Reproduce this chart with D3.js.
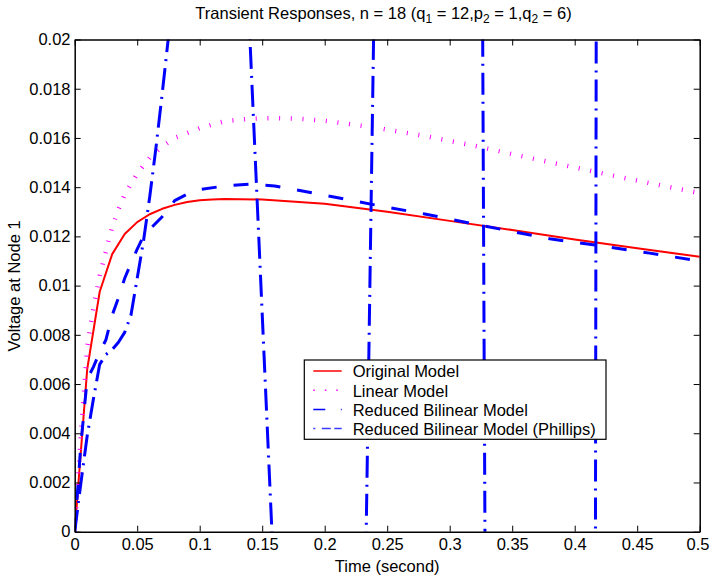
<!DOCTYPE html>
<html>
<head>
<meta charset="utf-8">
<script src="https://cdn.jsdelivr.net/npm/d3@7"></script>
<style>
  body { margin: 0; background: #fff; }
  text { font-family: "Liberation Sans", Arial, Helvetica, sans-serif; }
</style>
</head>
<body>
<div id="chart"></div>
<script>
// values
const timeOriginal = [0, 0.01, 0.02, 0.03, 0.04, 0.05, 0.06, 0.07, 0.08, 0.09, 0.1, 0.11, 0.12, 0.15, 0.2, 0.25, 0.3, 0.35, 0.4, 0.45, 0.5];
const voltOriginal = [0, 0.0066, 0.00975, 0.01128, 0.0121, 0.01258, 0.0129, 0.01312, 0.01328, 0.0134, 0.01347, 0.0135, 0.01352, 0.0135, 0.01333, 0.013, 0.01263, 0.01226, 0.01187, 0.01152, 0.01117];

const timeLinear = [0, 0.005, 0.01, 0.015, 0.02, 0.025, 0.03, 0.035, 0.04, 0.05, 0.06, 0.07, 0.08, 0.09, 0.1, 0.12, 0.14, 0.16, 0.18, 0.2, 0.24, 0.28, 0.32, 0.36, 0.4, 0.44, 0.48, 0.5];
const voltLinear = [0, 0.004, 0.0075, 0.0091, 0.0104, 0.0114, 0.0124, 0.0131, 0.0137, 0.01455, 0.0152, 0.01565, 0.016, 0.0162, 0.0164, 0.01668, 0.01678, 0.01681, 0.01678, 0.0167, 0.01642, 0.01608, 0.01568, 0.01523, 0.0148, 0.01437, 0.01396, 0.01376];

const timeBilinear = [0, 0.005, 0.01, 0.015, 0.02, 0.025, 0.03, 0.035, 0.04, 0.045, 0.05, 0.055, 0.06, 0.07, 0.08, 0.09, 0.1, 0.12, 0.14, 0.16, 0.19, 0.24, 0.28, 0.32, 0.38, 0.42, 0.46, 0.5];
const voltBilinear = [0, 0.0036, 0.0062, 0.0067, 0.0073, 0.0078, 0.0088, 0.0095, 0.0103, 0.0109, 0.01148, 0.012, 0.01228, 0.0128, 0.01345, 0.01372, 0.0139, 0.01405, 0.01412, 0.01405, 0.01377, 0.01328, 0.01291, 0.0125, 0.0119, 0.01162, 0.01132, 0.011];

const timePhillips = [0, 0.005, 0.01, 0.015, 0.02, 0.025, 0.03, 0.035, 0.04, 0.045, 0.05, 0.055, 0.06, 0.065, 0.07, 0.075, 0.08, 0.1, 0.13, 0.17, 0.2, 0.23, 0.24, 0.28, 0.32, 0.33, 0.37, 0.41, 0.42, 0.46, 0.5];
const voltPhillips = [0, 0.002, 0.0039, 0.0054, 0.0068, 0.0072, 0.0074, 0.0077, 0.0081, 0.0088, 0.0103, 0.0118, 0.0136, 0.0156, 0.0178, 0.0201, 0.0225, 0.045, 0.0316, -0.0139, -0.05, -0.0109, 0.0231, 0.12, 0.0911, -0.02, -0.3, -0.22, 0.1133, 0.6, 0.4];

const xTicks = [0, 0.05, 0.1, 0.15, 0.2, 0.25, 0.3, 0.35, 0.4, 0.45, 0.5];
const xTickLabels = ["0", "0.05", "0.1", "0.15", "0.2", "0.25", "0.3", "0.35", "0.4", "0.45", "0.5"];
const yTicks = [0, 0.002, 0.004, 0.006, 0.008, 0.01, 0.012, 0.014, 0.016, 0.018, 0.02];
const yTickLabels = ["0", "0.002", "0.004", "0.006", "0.008", "0.01", "0.012", "0.014", "0.016", "0.018", "0.02"];
const seriesNames = ["Original Model", "Linear Model", "Reduced Bilinear Model", "Reduced Bilinear Model (Phillips)"];

function makeChart() {
    const svg = d3.select("div#chart")
        .append("svg")
        .attr("width", 710)
        .attr("height", 580);

    const left = 74.7, right = 699.7, top = 39.5, bottom = 531.7;
    const fontSize = 16.5;

    const xScale = d3.scaleLinear().domain([0, 0.5]).range([left, right]);
    const yScale = d3.scaleLinear().domain([0, 0.02]).range([bottom, top]);

    svg.append("clipPath").attr("id", "plotClip")
        .append("rect")
        .attr("x", left).attr("y", top)
        .attr("width", right - left).attr("height", bottom - top);

    const line = d3.line()
        .x(d => xScale(d[0]))
        .y(d => yScale(d[1]));

    const styles = [
        { color: "#ff0000", width: 2, dash: null },
        { color: "#ff00ff", width: 4.5, dash: "1,10.7" },
        { color: "#0000ff", width: 3, dash: "15,17" },
        { color: "#0000ff", width: 3, dash: "22,7,2,7" }
    ];
    const series = [
        d3.zip(timeOriginal, voltOriginal),
        d3.zip(timeLinear, voltLinear),
        d3.zip(timeBilinear, voltBilinear),
        d3.zip(timePhillips, voltPhillips)
    ];

    const plot = svg.append("g").attr("clip-path", "url(#plotClip)");
    series.forEach((s, i) => {
        plot.append("path")
            .datum(s)
            .attr("d", line)
            .attr("fill", "none")
            .attr("stroke", styles[i].color)
            .attr("stroke-width", styles[i].width)
            .attr("stroke-dasharray", styles[i].dash)
            .attr("stroke-linejoin", "round");
    });

    // box with inward ticks on all sides
    const bottomAxis = svg.append("g")
        .attr("transform", "translate(0," + bottom + ")")
        .call(d3.axisBottom(xScale).tickValues(xTicks).tickFormat((d, i) => xTickLabels[i])
            .tickSizeInner(-6).tickSizeOuter(0).tickPadding(6.6));
    const topAxis = svg.append("g")
        .attr("transform", "translate(0," + top + ")")
        .call(d3.axisTop(xScale).tickValues(xTicks).tickFormat("")
            .tickSizeInner(-6).tickSizeOuter(0));
    const leftAxis = svg.append("g")
        .attr("transform", "translate(" + left + ",0)")
        .call(d3.axisLeft(yScale).tickValues(yTicks).tickFormat((d, i) => yTickLabels[i])
            .tickSizeInner(-6).tickSizeOuter(0).tickPadding(4.2));
    const rightAxis = svg.append("g")
        .attr("transform", "translate(" + right + ",0)")
        .call(d3.axisRight(yScale).tickValues(yTicks).tickFormat("")
            .tickSizeInner(-6).tickSizeOuter(0));

    [bottomAxis, topAxis, leftAxis, rightAxis].forEach(a => {
        a.attr("font-size", fontSize);
        a.select(".domain").attr("stroke", "#000").attr("stroke-width", 1.5);
        a.selectAll(".tick line").attr("stroke", "#000").attr("stroke-width", 1);
        a.selectAll(".tick text").attr("fill", "#000");
    });
    // last label sits right at the window edge
    bottomAxis.selectAll(".tick text")
        .filter((d, i) => i === xTicks.length - 1)
        .attr("text-anchor", "end")
        .attr("x", 709 - right);

    // title with subscripts
    const title = svg.append("text")
        .attr("x", 383.5).attr("y", 19.3)
        .attr("text-anchor", "middle")
        .style("font-size", fontSize + "px")
        .attr("fill", "#000");
    const parts = [["Transient Responses, n = 18 (q", 0], ["1", 1], [" = 12,p", 0], ["2", 1], [" = 1,q", 0], ["2", 1], [" = 6)", 0]];
    parts.forEach((p, i) => {
        const prevSub = i > 0 && parts[i - 1][1] === 1;
        title.append("tspan")
            .text(p[0])
            .attr("dy", p[1] ? 4 : (prevSub ? -4 : 0))
            .style("font-size", p[1] ? "12px" : fontSize + "px");
    });

    svg.append("text")
        .attr("x", (left + right) / 2).attr("y", 572)
        .attr("text-anchor", "middle")
        .style("font-size", fontSize + "px")
        .text("Time (second)");

    svg.append("text")
        .attr("transform", "translate(20,286) rotate(-90)")
        .attr("text-anchor", "middle")
        .style("font-size", fontSize + "px")
        .text("Voltage at Node 1");

    // legend
    const legend = svg.append("g");
    legend.append("rect")
        .attr("x", 304.3).attr("y", 360)
        .attr("width", 301.7).attr("height", 79.3)
        .attr("fill", "#fff")
        .attr("stroke", "#000")
        .attr("stroke-width", 1.2);
    const legendDash = [null, "1.5,10", "12,15.5,2,10", "2,6.5,9,3.5,8"];
    const legendColor = ["#ff0000", "#ff00ff", "#0000ff", "#3a3aff"];
    seriesNames.forEach((name, i) => {
        const base = 377.3 + i * 19.2;
        legend.append("line")
            .attr("x1", 313.3).attr("x2", 341.7)
            .attr("y1", base - 6.3).attr("y2", base - 6.3)
            .attr("stroke", legendColor[i])
            .attr("stroke-width", 1.5)
            .attr("stroke-dasharray", legendDash[i]);
        legend.append("text")
            .attr("x", 352.7).attr("y", base)
            .style("font-size", fontSize + "px")
            .attr("fill", "#000")
            .text(name);
    });
}
makeChart();
</script>
</body>
</html>
